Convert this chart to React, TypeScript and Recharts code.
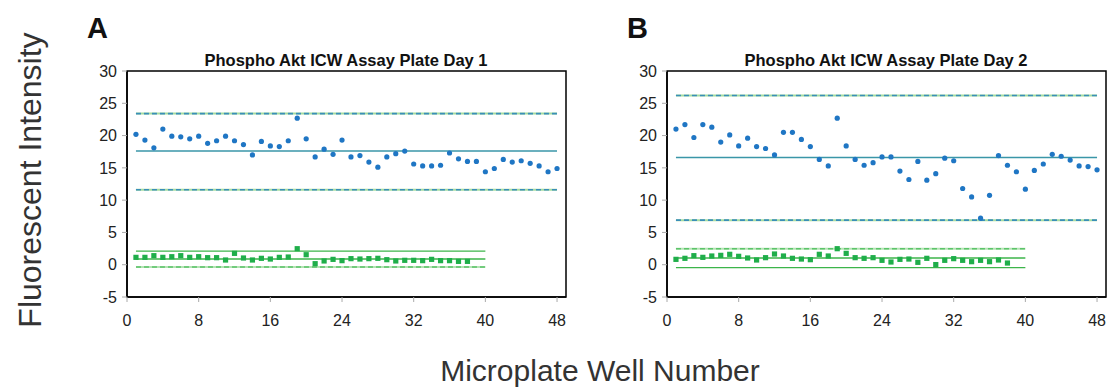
import {
  ComposedChart, Scatter, XAxis, YAxis, ReferenceLine, ReferenceArea
} from 'recharts'

// fluorescent intensity per well, wells 1..48 (sample) and 1..38 (background)
const DAY1_SAMPLE = [
  20.2, 19.3, 18.1, 21.0, 19.9, 19.8, 19.5, 19.9, 18.8, 19.2, 19.9, 19.2,
  18.6, 17.0, 19.1, 18.4, 18.3, 19.2, 22.7, 19.5, 16.7, 17.9, 17.1, 19.3,
  16.7, 16.9, 15.9, 15.1, 16.7, 17.2, 17.6, 15.6, 15.3, 15.3, 15.4, 17.3,
  16.4, 16.0, 16.0, 14.4, 14.9, 16.3, 15.9, 16.1, 15.7, 15.3, 14.4, 14.9,
]
const DAY1_BACKGROUND = [
  1.14, 1.14, 1.40, 1.14, 1.24, 1.40, 1.14, 1.24, 1.09, 1.09, 0.73, 1.76,
  1.04, 0.73, 0.99, 0.88, 1.14, 1.19, 2.48, 1.55, 0.16, 0.58, 0.83, 0.63,
  0.94, 0.88, 0.94, 0.99, 0.78, 0.58, 0.68, 0.68, 0.63, 0.83, 0.63, 0.63,
  0.52, 0.52,
]
const DAY2_SAMPLE = [
  21.0, 21.7, 19.7, 21.7, 21.3, 19.0, 20.1, 18.4, 19.6, 18.3, 18.0, 17.0,
  20.5, 20.5, 19.4, 18.3, 16.3, 15.3, 22.7, 18.4, 16.3, 15.4, 15.8, 16.7,
  16.7, 14.5, 13.2, 16.0, 13.1, 14.1, 16.5, 16.1, 11.8, 10.5, 7.2, 10.75,
  16.9, 15.4, 14.4, 11.7, 14.6, 15.6, 17.1, 16.8, 16.2, 15.3, 15.2, 14.7,
]
const DAY2_BACKGROUND = [
  0.83, 0.99, 1.40, 1.14, 1.35, 1.45, 1.61, 1.30, 1.04, 0.73, 1.09, 1.66,
  1.35, 0.99, 0.88, 0.78, 1.61, 1.35, 2.48, 1.76, 1.09, 0.99, 1.09, 0.68,
  0.42, 0.83, 0.88, 0.37, 0.99, 0.02, 0.68, 0.94, 0.68, 0.47, 0.68, 0.47,
  0.73, 0.26,
]

// control limits: [upper, mean, lower]
const DAY1_SAMPLE_LIMITS = [23.4, 17.6, 11.6]
const DAY1_BACKGROUND_LIMITS = [2.12, 0.88, -0.35]
const DAY2_SAMPLE_LIMITS = [26.2, 16.6, 6.9]
const DAY2_BACKGROUND_LIMITS = [2.48, 1.04, -0.46]

// well ranges covered by the limit lines
const SAMPLE_SPAN = [1, 48]
const BACKGROUND_SPAN = [1, 40]

const X_TICKS = [0, 8, 16, 24, 32, 40, 48]
const Y_TICKS = [-5, 0, 5, 10, 15, 20, 25, 30]

const FONT = '"Liberation Sans", Arial, sans-serif'

const toPoints = (vals: number[]) => vals.map((y, i) => ({ x: i + 1, y }))

const Dot = (p: any) => <circle cx={p.cx} cy={p.cy} r={2.6} fill="#1f76c4" />
const Square = (p: any) => (
  <rect x={p.cx - 2.6} y={p.cy - 2.6} width={5.2} height={5.2} fill="#1fae4a" />
)

function limitLines(limits: number[], span: number[], kind: 'sample' | 'bg', day: number, key: string) {
  const seg = (v: number) => [{ x: span[0], y: v }, { x: span[1], y: v }] as any
  const [up, mean, low] = limits
  const out: any[] = []
  if (kind === 'sample') {
    for (const v of [up, low]) {
      out.push(<ReferenceLine key={`${key}g${v}`} segment={seg(v)} stroke="#a6dca0" strokeWidth={2} ifOverflow="visible" />)
      out.push(<ReferenceLine key={`${key}d${v}`} segment={seg(v)} stroke="#3a8fb8" strokeWidth={1.6} strokeDasharray="5 3" ifOverflow="visible" />)
    }
    out.push(<ReferenceLine key={`${key}m`} segment={seg(mean)} stroke="#3a96a8" strokeWidth={1.6} ifOverflow="visible" />)
  } else {
    const solid = day === 1 ? up : low
    const dashed = day === 1 ? low : up
    out.push(<ReferenceLine key={`${key}s`} segment={seg(solid)} stroke="#3cb54a" strokeWidth={1.2} ifOverflow="visible" />)
    out.push(<ReferenceLine key={`${key}dg`} segment={seg(dashed)} stroke="#b4e3b4" strokeWidth={2} ifOverflow="visible" />)
    out.push(<ReferenceLine key={`${key}dd`} segment={seg(dashed)} stroke="#5cc46a" strokeWidth={1.6} strokeDasharray="5 3" ifOverflow="visible" />)
    out.push(<ReferenceLine key={`${key}m`} segment={seg(mean)} stroke="#3cb54a" strokeWidth={1.6} ifOverflow="visible" />)
  }
  return out
}

function Panel({ left, letter, title, day, sample, background, sampleLimits, bgLimits }: any) {
  return (
    <div style={{ position: 'absolute', left, top: 0, width: 510, height: 340 }}>
      <div style={{ position: 'absolute', left: 21, top: 12, fontFamily: FONT, fontWeight: 'bold', fontSize: 29, color: '#111', lineHeight: 'normal' }}>
        {letter}
      </div>
      <div style={{ position: 'absolute', left: 60, width: 440, top: 51, textAlign: 'center', fontFamily: FONT, fontWeight: 'bold', fontSize: 16.5, color: '#111', whiteSpace: 'nowrap' }}>
        {title}
      </div>
      <div style={{ position: 'absolute', left: 0, top: 50 }}>
        <ComposedChart width={510} height={280} margin={{ top: 21, right: 10, left: 0, bottom: 3 }}>
          <XAxis
            type="number" dataKey="x" domain={[0, 49]} ticks={X_TICKS} allowDataOverflow
            axisLine={{ stroke: '#000', strokeWidth: 1.5 }} tickLine={{ stroke: '#aaa' }} tickSize={5} tickMargin={13}
            tick={{ fill: '#222', fontSize: 16, fontFamily: FONT }} height={30}
          />
          <YAxis
            type="number" dataKey="y" domain={[-5, 30]} ticks={Y_TICKS} allowDataOverflow
            axisLine={{ stroke: '#000', strokeWidth: 1.5 }} tickLine={{ stroke: '#aaa' }} tickSize={5} tickMargin={5}
            tick={{ fill: '#222', fontSize: 16, fontFamily: FONT }} width={61}
          />
          <ReferenceArea x1={0} x2={49} y1={-5} y2={30} fill="none" stroke="#000" strokeWidth={1.5} fillOpacity={0} />
          {limitLines(sampleLimits, SAMPLE_SPAN, 'sample', day, 's')}
          {limitLines(bgLimits, BACKGROUND_SPAN, 'bg', day, 'b')}
          <Scatter data={toPoints(sample)} shape={Dot} isAnimationActive={false} />
          <Scatter data={toPoints(background)} shape={Square} isAnimationActive={false} />
        </ComposedChart>
      </div>
    </div>
  )
}

export default function App() {
  return (
    <div style={{ position: 'absolute', left: 0, top: 0, width: 1107, height: 390, background: '#fff', overflow: 'hidden' }}>
      <div
        style={{
          position: 'absolute', left: 30, top: 180, transform: 'translate(-50%, -50%) rotate(-90deg)',
          whiteSpace: 'nowrap', fontFamily: FONT, fontSize: 32, color: '#333', lineHeight: 'normal',
        }}
      >
        Fluorescent Intensity
      </div>
      <Panel
        left={66} letter="A" title="Phospho Akt ICW Assay Plate Day 1" day={1}
        sample={DAY1_SAMPLE} background={DAY1_BACKGROUND}
        sampleLimits={DAY1_SAMPLE_LIMITS} bgLimits={DAY1_BACKGROUND_LIMITS}
      />
      <Panel
        left={606} letter="B" title="Phospho Akt ICW Assay Plate Day 2" day={2}
        sample={DAY2_SAMPLE} background={DAY2_BACKGROUND}
        sampleLimits={DAY2_SAMPLE_LIMITS} bgLimits={DAY2_BACKGROUND_LIMITS}
      />
      <div
        style={{
          position: 'absolute', left: 0, width: 1200, top: 359, textAlign: 'center',
          fontFamily: FONT, fontSize: 30, color: '#333', lineHeight: 0.8,
        }}
      >
        Microplate Well Number
      </div>
    </div>
  )
}
